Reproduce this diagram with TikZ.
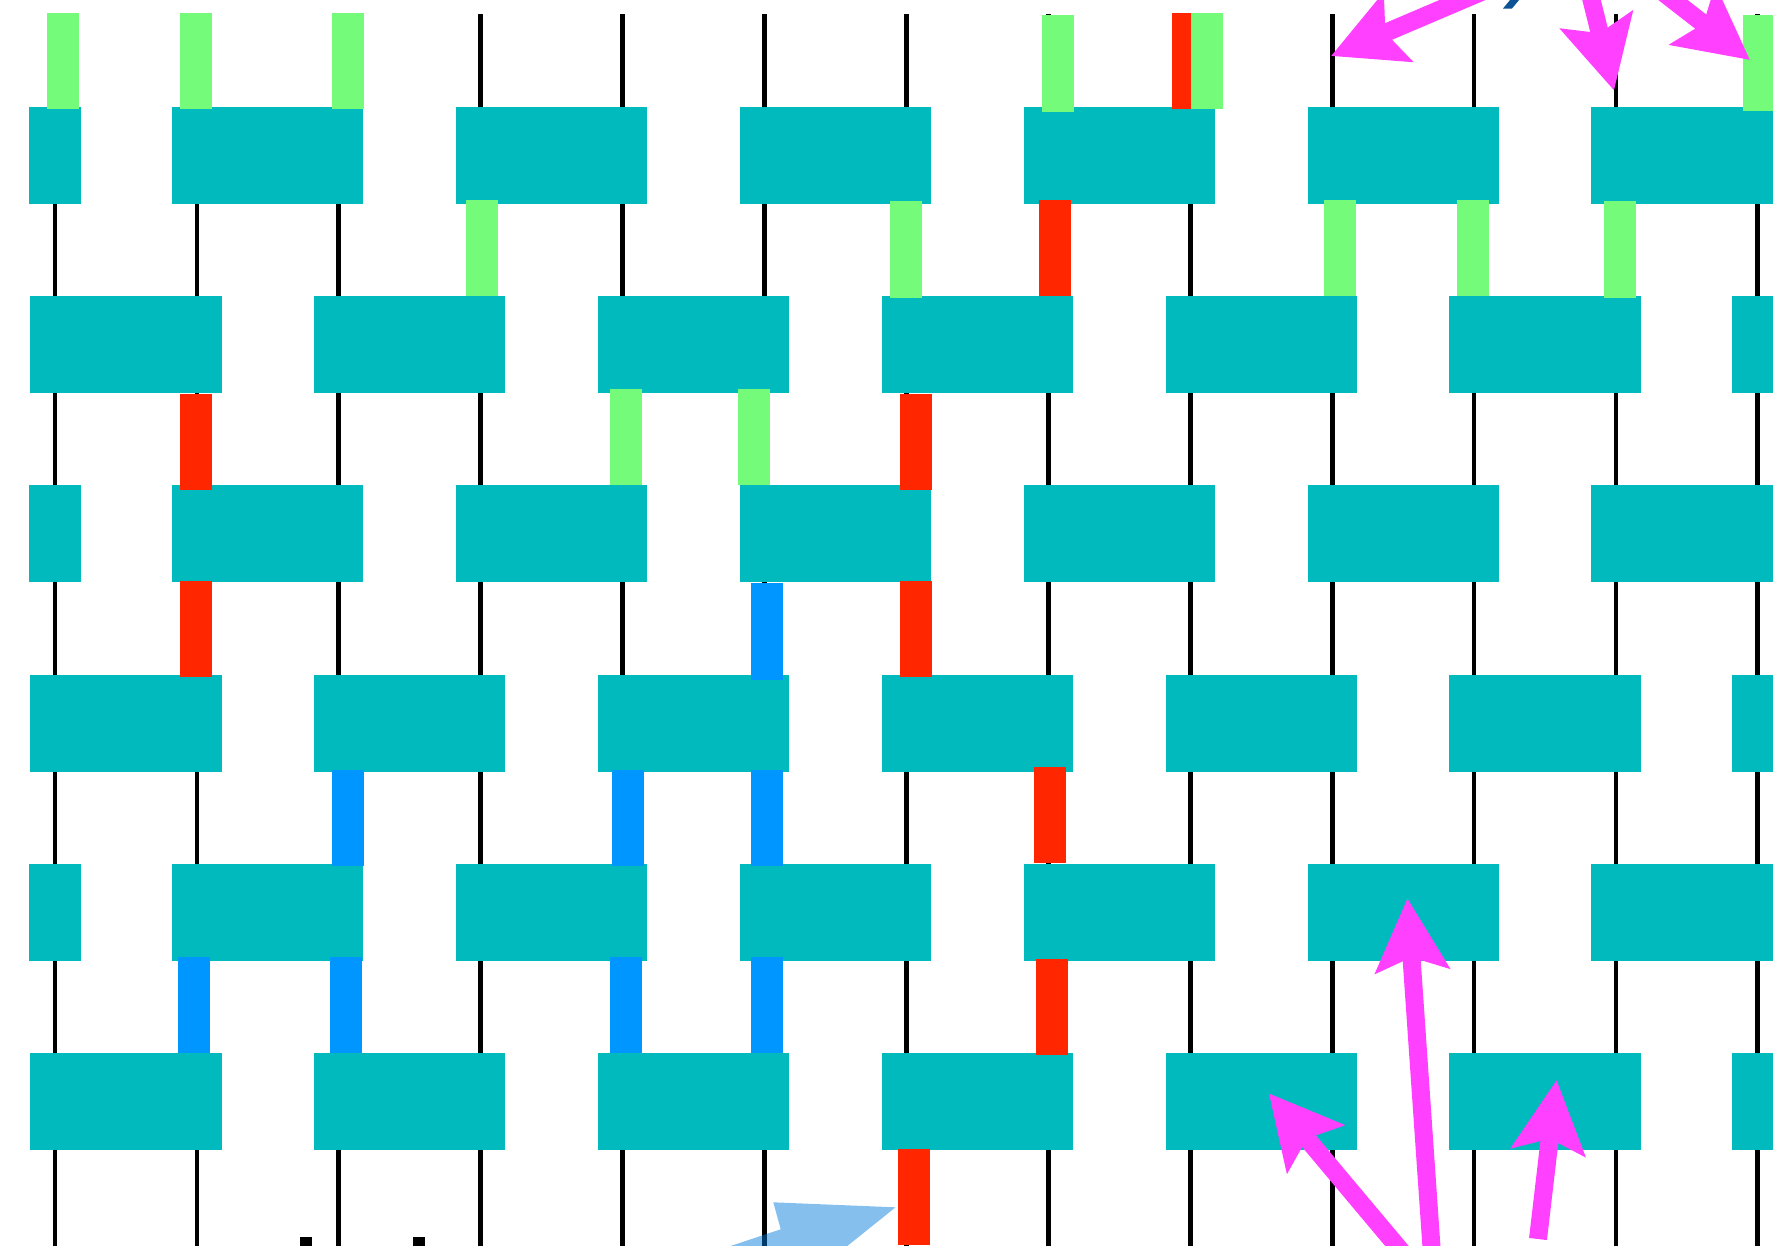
\documentclass[tikz,border=0pt]{standalone}
\usepackage{tikz}
\usetikzlibrary{arrows.meta}
\definecolor{gatecol}{RGB}{0,186,189}
\definecolor{grn}{RGB}{115,251,121}
\definecolor{rd}{RGB}{255,38,0}
\definecolor{blu}{RGB}{0,150,255}
\definecolor{pnk}{RGB}{255,64,255}
\definecolor{sky}{RGB}{0,122,218}
\definecolor{navy}{RGB}{11,83,148}
\tikzset{
  wire/.style={line width=0.048cm},
  gate/.style={fill=gatecol, inner sep=0pt, minimum width=1.91cm, minimum height=0.97cm},
  halfgate/.style={gate, minimum width=0.52cm},
  pulse/.style={fill=#1, inner sep=0pt, minimum width=0.32cm, minimum height=0.96cm},
  arr/.style={draw=pnk, line width=0.18cm, -{Stealth[length=0.72cm, width=0.73cm, inset=0.13cm]}},
}
\begin{document}
\begin{tikzpicture}[x=0.01cm, y=-0.01cm]
    \useasboundingbox (0,0) rectangle (1773,1245);
    \clip (0,0) rectangle (1773,1245);
    % wires
    \foreach \i in {0,...,12} {
      \coordinate (top\i) at ({55+141.9*\i},14);
      \coordinate (bot\i) at ({55+141.9*\i},1260);
      \draw[wire] (top\i) -- (bot\i);
    }
    % gate layers
    \foreach \r/\y in {1/155.5, 3/533.9, 5/912.3} {
      \node[halfgate] (g\r-0) at (55,\y) {};
      \foreach \j in {1,...,6}
        \node[gate] (g\r-\j) at ({55+141.9*(2*\j-0.5)},\y) {};
    }
    \foreach \r/\y in {2/344.7, 4/723.1, 6/1101.5} {
      \foreach \j in {0,...,5}
        \node[gate] (g\r-\j) at ({55+141.9*(2*\j+0.5)},\y) {};
      \node[halfgate] (g\r-6) at (1757.8,\y) {};
    }
    % pulses
    \foreach \c/\x/\y [count=\n] in {
        grn/63/61, grn/196.3/61, grn/348.3/61, grn/1058/63.5, rd/1188.3/61,
        grn/1207/61, grn/1759/63.3,
        grn/481.7/248, grn/905.7/249.5, rd/1055/248, grn/1340/248, grn/1473/248, grn/1620/249.5,
        rd/196.3/442, grn/625.7/437, grn/753.8/437, rd/916.3/442,
        rd/196.3/628.7, blu/767/631.5, rd/916.3/628.7,
        blu/348.3/818, blu/628.3/818, blu/767/818, rd/1049.7/815.3,
        blu/193.7/1005, blu/345.7/1005, blu/625.7/1005, blu/767/1005, rd/1052.3/1007.3,
        rd/913.6/1197}
      \node[pulse=\c] (p\n) at (\x,\y) {};
    % stray marks
    \fill[sky, fill opacity=0.48] (773.3,1202.3) -- (895.5,1207.3) -- (829.8,1260)
      -- (688.6,1260) -- (780.7,1229.3) -- cycle;
    \fill (300,1237) rectangle (311.7,1250);
    \fill (413.3,1237) rectangle (425,1250);
    \fill[navy] (1512.5,-3) -- (1521.5,-3) -- (1512,8.5) -- (1503,8.5) -- cycle;
    % arrows
    \coordinate (a1) at (1561,-42);     \coordinate (a1h) at (1331,56);
    \coordinate (a2) at (1566,-103);    \coordinate (a2h) at (1614,90.5);
    \coordinate (a3) at (1592,-63);     \coordinate (a3h) at (1750,60);
    \coordinate (a4) at (1416.7,1269.5); \coordinate (a4h) at (1268.8,1093.3);
    \coordinate (a5) at (1432.5,1262);  \coordinate (a5h) at (1407.4,898.3);
    \coordinate (a6) at (1538,1239);    \coordinate (a6h) at (1556.6,1080);
    \draw[arr] (a1) -- (a1h);
    \draw[arr] (a2) -- (a2h);
    \draw[arr] (a3) -- (a3h);
    \draw[arr] (a4) -- (a4h);
    \draw[arr] (a5) -- (a5h);
    \draw[arr] (a6) -- (a6h);
\end{tikzpicture}
\end{document}
